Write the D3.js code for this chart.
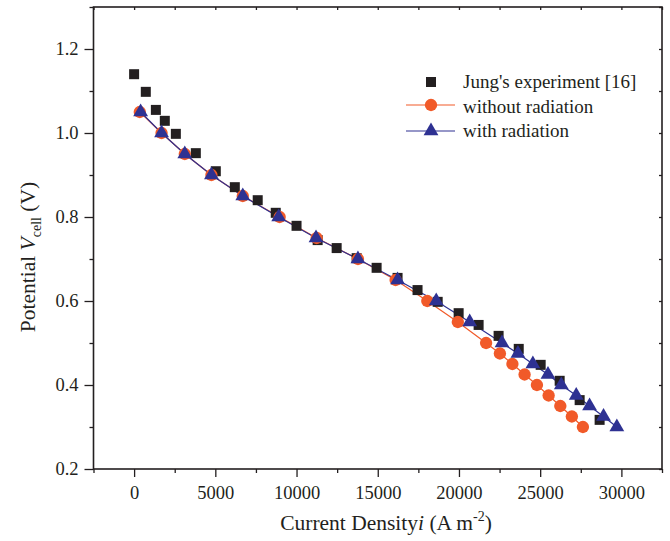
<!DOCTYPE html>
<html>
<head>
<meta charset="utf-8">
<script src="https://cdn.jsdelivr.net/npm/d3@7"></script>
<style>
body { margin: 0; background: #fff; }
text { font-family: "Liberation Serif", "Times New Roman", serif; fill: #231f20; }
</style>
</head>
<body>
<div id="chart"></div>
<script>
// data
const jungI = [0, 720, 1340, 1890, 2570, 3800, 5030, 6200, 7610, 8720, 10000, 11300, 12470, 13700, 14930, 16220, 17450, 18690, 19980, 21210, 22440, 23680, 25030, 26200, 27430, 28660];
const jungV = [1.14, 1.098, 1.055, 1.029, 0.998, 0.952, 0.909, 0.871, 0.840, 0.810, 0.779, 0.745, 0.726, 0.702, 0.679, 0.655, 0.626, 0.598, 0.571, 0.543, 0.517, 0.486, 0.448, 0.410, 0.364, 0.317];

const noRadI = [350, 1690, 3120, 4760, 6690, 8960, 11240, 13780, 16100, 18050, 19930, 21670, 22520, 23290, 24040, 24800, 25520, 26240, 26950, 27630];
const noRadV = [1.05, 1.0, 0.95, 0.9, 0.85, 0.8, 0.75, 0.7, 0.65, 0.6, 0.55, 0.5, 0.475, 0.45, 0.425, 0.4, 0.375, 0.35, 0.325, 0.3];

const radI = [400, 1690, 3120, 4760, 6690, 8900, 11200, 13780, 16220, 18600, 20660, 22650, 23630, 24550, 25480, 26300, 27220, 28040, 28900, 29720];
const radV = [1.05, 1.0, 0.95, 0.9, 0.85, 0.8, 0.75, 0.7, 0.65, 0.6, 0.55, 0.5, 0.475, 0.45, 0.425, 0.4, 0.375, 0.35, 0.325, 0.3];

const xTicks = [0, 5000, 10000, 15000, 20000, 25000, 30000];
const xMinor = [-2500, 2500, 7500, 12500, 17500, 22500, 27500, 32500];
const yTicks = [0.2, 0.4, 0.6, 0.8, 1.0, 1.2];
const yMinor = [0.3, 0.5, 0.7, 0.9, 1.1, 1.3];

const legendNames = ["Jung's experiment [16]", "without radiation", "with radiation"];

let w = 670, h = 541;
let padL = 93.5, padR = 662, padT = 7, padB = 469;
const black = '#231f20', orange = '#f15a29', blue = '#2e3192';

let svg = d3.select('#chart').append('svg').attr('width', w).attr('height', h);

let Xscale = d3.scaleLinear().domain([-2500, 32500]).range([padL, padR]);
let Yscale = d3.scaleLinear().domain([0.2, 1.3]).range([padB, padT]);

function axisStyle(g) {
  g.select('.domain').remove();
  g.selectAll('line').attr('stroke', black).attr('stroke-width', 1.3);
  g.selectAll('text').style('font-size', '18.5px');
}

// bottom
svg.append('g').attr('transform', 'translate(0,' + padB + ')')
  .call(d3.axisBottom(Xscale).tickValues(xTicks).tickSize(8).tickPadding(9).tickFormat(d3.format('d')))
  .call(axisStyle);
svg.append('g').attr('transform', 'translate(0,' + padB + ')')
  .call(d3.axisBottom(Xscale).tickValues(xMinor).tickSize(4).tickFormat(''))
  .call(axisStyle);
// left
svg.append('g').attr('transform', 'translate(' + padL + ',0)')
  .call(d3.axisLeft(Yscale).tickValues(yTicks).tickSize(9).tickPadding(6).tickFormat(d3.format('.1f')))
  .call(axisStyle);
svg.append('g').attr('transform', 'translate(' + padL + ',0)')
  .call(d3.axisLeft(Yscale).tickValues(yMinor).tickSize(4).tickFormat(''))
  .call(axisStyle);
// top and right, inward ticks
svg.append('g').attr('transform', 'translate(0,' + padT + ')')
  .call(d3.axisTop(Xscale).tickValues(xTicks.concat(xMinor)).tickSize(-3).tickFormat(''))
  .call(axisStyle);
svg.append('g').attr('transform', 'translate(' + padR + ',0)')
  .call(d3.axisRight(Yscale).tickValues(yTicks.concat(yMinor)).tickSize(-3).tickFormat(''))
  .call(axisStyle);

// frame
svg.append('rect')
  .attr('x', padL).attr('y', padT)
  .attr('width', padR - padL).attr('height', padB - padT)
  .attr('fill', 'none').attr('stroke', black).attr('stroke-width', 1.6);

// axis titles
let xt = svg.append('text').attr('x', 386).attr('y', 530).attr('text-anchor', 'middle').style('font-size', '21.5px');
xt.append('tspan').text('Current Density');
xt.append('tspan').attr('font-style', 'italic').text('i');
xt.append('tspan').text(' (A m');
xt.append('tspan').attr('dy', -9).style('font-size', '14px').text('-2');
xt.append('tspan').attr('dy', 9).text(')');

let yt = svg.append('text').attr('transform', 'translate(35,257) rotate(-90)').attr('text-anchor', 'middle').style('font-size', '21.5px');
yt.append('tspan').text('Potential ');
yt.append('tspan').attr('font-style', 'italic').text('V');
yt.append('tspan').attr('dy', 6).style('font-size', '14px').text('cell');
yt.append('tspan').attr('dy', -6).text(' (V)');

// lines
let line = d3.line().x(d => Xscale(d[0])).y(d => Yscale(d[1]));
let noRad = noRadI.map((d, i) => [d, noRadV[i]]);
let rad = radI.map((d, i) => [d, radV[i]]);
let jung = jungI.map((d, i) => [d, jungV[i]]);

svg.append('path').datum(noRad).attr('d', line).attr('fill', 'none').attr('stroke', orange).attr('stroke-width', 1.2);
svg.append('path').datum(rad).attr('d', line).attr('fill', 'none').attr('stroke', blue).attr('stroke-width', 1.2);

// markers
const sq = d3.symbol().type(d3.symbolSquare).size(100);
const ci = d3.symbol().type(d3.symbolCircle).size(120);
const tri = d3.symbol().type(d3.symbolTriangle).size(95);

svg.append('g').selectAll('path').data(jung).enter().append('path')
  .attr('d', sq).attr('transform', d => 'translate(' + Xscale(d[0]) + ',' + Yscale(d[1]) + ')')
  .attr('fill', black);
svg.append('g').selectAll('path').data(noRad).enter().append('path')
  .attr('d', ci).attr('transform', d => 'translate(' + Xscale(d[0]) + ',' + Yscale(d[1]) + ')')
  .attr('fill', orange);
svg.append('g').selectAll('path').data(rad).enter().append('path')
  .attr('d', tri).attr('transform', d => 'translate(' + Xscale(d[0]) + ',' + Yscale(d[1]) + ')')
  .attr('fill', blue);

// legend
let lg = svg.append('g');
lg.append('path').attr('d', sq).attr('transform', 'translate(431,82)').attr('fill', black);
lg.append('line').attr('x1', 406).attr('x2', 455).attr('y1', 105).attr('y2', 105).attr('stroke', orange).attr('stroke-width', 1.2);
lg.append('path').attr('d', ci).attr('transform', 'translate(431,105)').attr('fill', orange);
lg.append('line').attr('x1', 406).attr('x2', 455).attr('y1', 131).attr('y2', 131).attr('stroke', blue).attr('stroke-width', 1.2);
lg.append('path').attr('d', tri).attr('transform', 'translate(431,131)').attr('fill', blue);
lg.selectAll('text.lab').data(legendNames).enter().append('text')
  .attr('x', 463).attr('y', (d, i) => 88 + i * 24.5)
  .style('font-size', '19px').text(d => d);
</script>
</body>
</html>
